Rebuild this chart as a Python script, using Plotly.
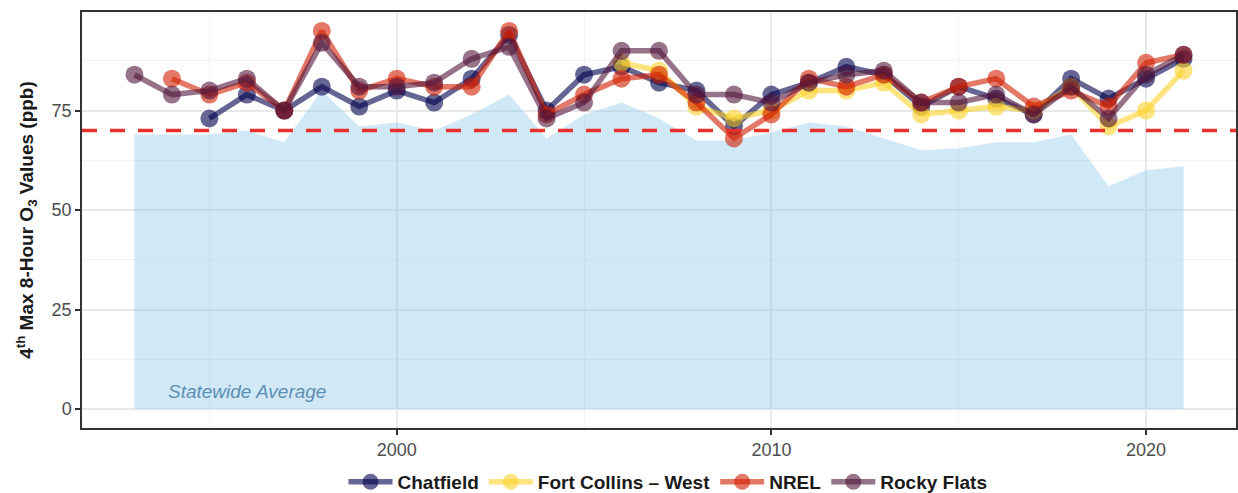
import plotly.graph_objects as go

years = list(range(1993, 2022))

statewide = [69, 69, 69, 70, 67, 80, 71, 72, 70, 74, 79, 68, 74, 77, 73, 67.5, 67.5,
             69.5, 72, 71, 68, 65, 65.5, 67, 67, 69, 56, 60, 61]

chatfield = [None, None, 73, 79, 75, 81, 76, 80, 77, 83, 94, 75, 84, 86, 82, 80, 71,
             79, 82, 86, 84, 76, 81, 78, 74, 83, 78, 83, 88]

fort_collins = [None] * 13 + [87, 85, 76, 73, 75, 80, 80, 82, 74, 75, 76, 75, 81, 71, 75, 85]

nrel = [None, 83, 79, 82, 75, 95, 80, 83, 81, 81, 95, 74, 79, 83, 84, 77, 68,
        74, 83, 81, 84, 77, 81, 83, 76, 80, 76, 87, 89]

rocky_flats = [84, 79, 80, 83, 75, 92, 81, 81, 82, 88, 91, 73, 77, 90, 90, 79, 79,
               77, 82, 84, 85, 77, 77, 79, 74, 81, 73, 84, 89]

series_names = ["Chatfield", "Fort Collins \u2013 West", "NREL", "Rocky Flats"]
series_values = [chatfield, fort_collins, nrel, rocky_flats]
series_rgb = [(0, 0, 77), (252, 210, 42), (210, 30, 0), (82, 22, 58)]
ALPHA = 0.6

standard = 70
annotation_text = "Statewide Average"

FONT = "Liberation Sans, Arial, Helvetica, sans-serif"

fig = go.Figure()

fig.add_trace(go.Scatter(
    x=years, y=statewide, mode="lines", fill="tozeroy",
    line=dict(width=0, color="rgba(140,198,233,0)"),
    fillcolor="rgba(140,198,233,0.4)",
    showlegend=False, hoverinfo="skip",
))

for name, vals, rgb in zip(series_names, series_values, series_rgb):
    col = "rgba(%d,%d,%d,%.2f)" % (rgb[0], rgb[1], rgb[2], ALPHA)
    fig.add_trace(go.Scatter(
        x=years, y=vals, mode="lines+markers", name=name,
        line=dict(color=col, width=5.5),
        marker=dict(color=col, size=18, line=dict(width=0)),
        connectgaps=False,
    ))

fig.add_shape(type="line", xref="paper", x0=0, x1=1, yref="y", y0=standard, y1=standard,
              line=dict(color="#e8312c", width=3.5, dash="15px,13px"), layer="above")

fig.add_annotation(x=1993.85, y=4.3, xref="x", yref="y", text="<i>" + annotation_text + "</i>",
                   showarrow=False, xanchor="left", yanchor="middle",
                   font=dict(family=FONT, size=19, color="#5d8fb2"))

fig.update_layout(
    width=1238, height=493,
    margin=dict(l=82, r=2, t=12, b=65, autoexpand=False),
    paper_bgcolor="white", plot_bgcolor="white",
    font=dict(family=FONT, size=18, color="#4d4d4d"),
    legend=dict(orientation="h", x=668 / 1238, xanchor="center", xref="container",
                y=1 - 482 / 493, yanchor="middle", yref="container",
                font=dict(family=FONT, size=19, color="#1a1a1a", weight="bold"),
                bgcolor="rgba(0,0,0,0)", itemwidth=44),
)

fig.update_xaxes(
    range=[1991.6, 2022.4], tick0=2000, dtick=10, automargin=False,
    showgrid=True, gridcolor="#e8e8e8", gridwidth=1.5,
    minor=dict(dtick=5, tick0=2000, showgrid=True, gridcolor="#f2f2f2", gridwidth=0.8),
    zeroline=False, showline=True, mirror=True, linecolor="#333333", linewidth=1.5,
    ticks="outside", ticklen=5, tickwidth=1.5, tickcolor="#333333",
    tickfont=dict(family=FONT, size=18, color="#4d4d4d"),
)

fig.update_yaxes(
    range=[-4.75, 99.75], tick0=0, dtick=25, automargin=False,
    showgrid=True, gridcolor="#e8e8e8", gridwidth=1.5,
    minor=dict(dtick=12.5, tick0=0, showgrid=True, gridcolor="#f2f2f2", gridwidth=0.8),
    zeroline=False, showline=True, mirror=True, linecolor="#333333", linewidth=1.5,
    ticks="outside", ticklen=5, tickwidth=1.5, tickcolor="#333333",
    tickfont=dict(family=FONT, size=18, color="#4d4d4d"),
    title=dict(text="<b>4<sup>th</sup> Max 8-Hour O<sub>3</sub> Values (ppb)</b>",
               font=dict(family=FONT, size=19, color="#1a1a1a"), standoff=13),
)

fig.write_html(
    "out.html",
    config={"displayModeBar": False},
    post_script="document.body.style.margin='0';document.body.style.overflow='hidden';",
)
